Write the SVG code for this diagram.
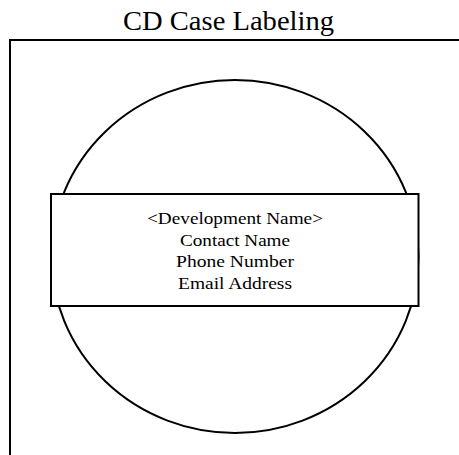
<svg xmlns="http://www.w3.org/2000/svg" width="459" height="455" viewBox="0 0 459 455">
<style>
.ln{fill:none;stroke:#000;stroke-width:2}
.t{font-family:"Liberation Serif","DejaVu Serif",serif;fill:#000;text-anchor:middle}
.b{font-size:16.5px}
</style>
<rect width="459" height="455" fill="#fff"/>
<text class="t" x="228.5" y="30" font-size="27" textLength="211" lengthAdjust="spacingAndGlyphs">CD Case Labeling</text>
<g id="frame"><path class="ln" d="M10,455 V40 H459"/></g>
<g id="disc"><ellipse class="ln" cx="235" cy="256.5" rx="183.5" ry="176.5"/></g>
<g id="label">
<rect x="51" y="194" width="367.5" height="112" fill="#fff" stroke="#000" stroke-width="2"/>
<text class="t b" x="235" y="224" textLength="176" lengthAdjust="spacingAndGlyphs">&lt;Development Name&gt;</text>
<text class="t b" x="235" y="245.5" textLength="110" lengthAdjust="spacingAndGlyphs">Contact Name</text>
<text class="t b" x="235" y="267" textLength="118" lengthAdjust="spacingAndGlyphs">Phone Number</text>
<text class="t b" x="235" y="288.5" textLength="114" lengthAdjust="spacingAndGlyphs">Email Address</text>
</g>
</svg>
